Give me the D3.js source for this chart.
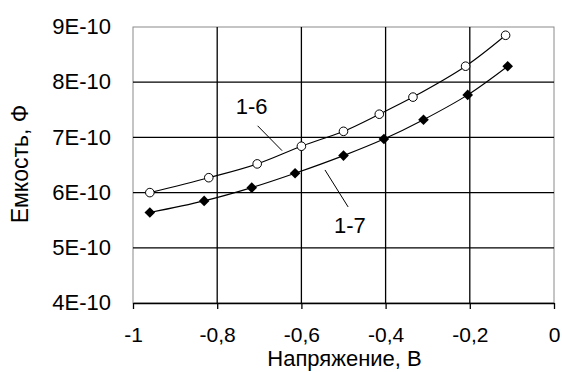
<!DOCTYPE html>
<meta charset="utf-8">
<head>
<style>
  body { margin: 0; background: #fff; }
  text { font-family: Arial, "Liberation Sans", sans-serif; fill: #000; }
</style>
</head>
<body>
<script src="https://cdn.jsdelivr.net/npm/d3@7"></script>
<script>

// series 1-6 (open circles)
var volt16 = [-0.96, -0.82, -0.705, -0.6, -0.5, -0.415, -0.335, -0.21, -0.115];
var cap16  = [6.0e-10, 6.27e-10, 6.52e-10, 6.84e-10, 7.11e-10, 7.42e-10, 7.73e-10, 8.29e-10, 8.85e-10];

// series 1-7 (filled diamonds)
var volt17 = [-0.96, -0.831, -0.718, -0.615, -0.5, -0.404, -0.31, -0.205, -0.11];
var cap17  = [5.64e-10, 5.85e-10, 6.09e-10, 6.35e-10, 6.67e-10, 6.97e-10, 7.32e-10, 7.77e-10, 8.29e-10];

var xTicks = [-1, -0.8, -0.6, -0.4, -0.2, 0];
var xTickLabels = ["-1", "-0,8", "-0,6", "-0,4", "-0,2", "0"];
var yTicks = [4e-10, 5e-10, 6e-10, 7e-10, 8e-10, 9e-10];
var yTickLabels = ["4E-10", "5E-10", "6E-10", "7E-10", "8E-10", "9E-10"];

// labels and their leader lines, in data units
var labels = [
  {text: "1-6", x: -0.718, y: 7.57e-10, lx1: -0.704, ly1: 7.21e-10, lx2: -0.646, ly2: 6.76e-10},
  {text: "1-7", x: -0.485, y: 5.41e-10, lx1: -0.544, ly1: 6.41e-10, lx2: -0.489, ly2: 5.74e-10}
];

var margin = {top: 27, right: 8, bottom: 69, left: 133},
    width = 562 - margin.left - margin.right,
    height = 372 - margin.top - margin.bottom;

var svg = d3.select("body").append("svg")
    .attr("width", 562)
    .attr("height", 372);

var g = svg.append("g")
    .attr("transform", "translate(" + margin.left + "," + margin.top + ")");

var x = d3.scaleLinear().domain([-1, 0]).range([0, width]);
var y = d3.scaleLinear().domain([4e-10, 9e-10]).range([height, 0]);

// plot frame (grey)
g.append("rect")
    .attr("x", 0).attr("y", 0)
    .attr("width", width).attr("height", height)
    .attr("fill", "none")
    .attr("stroke", "#8a8a8a")
    .attr("stroke-width", 1);

// grid
g.selectAll(".vgrid")
  .data(xTicks.slice(1, -1))
  .enter().append("line")
    .attr("x1", function(d){ return x(d); })
    .attr("x2", function(d){ return x(d); })
    .attr("y1", 0).attr("y2", height)
    .attr("stroke", "#000").attr("stroke-width", 1.3);

g.selectAll(".hgrid")
  .data(yTicks.slice(1, -1))
  .enter().append("line")
    .attr("x1", 0).attr("x2", width)
    .attr("y1", function(d){ return y(d); })
    .attr("y2", function(d){ return y(d); })
    .attr("stroke", "#000").attr("stroke-width", 1.3);

// x axis
var xAxis = g.append("g")
    .attr("transform", "translate(0," + height + ")")
    .call(d3.axisBottom(x).tickValues(xTicks).tickSize(6).tickSizeOuter(0)
      .tickFormat(function(d, i){ return xTickLabels[i]; }));
xAxis.select(".domain").attr("stroke", "#000").attr("stroke-width", 1.3);
xAxis.selectAll(".tick line").attr("stroke", "#000").attr("stroke-width", 1.3);
xAxis.selectAll(".tick text")
    .attr("y", 39).attr("dy", 0)
    .style("font-size", "21px")
    .style("font-family", "Arial, 'Liberation Sans', sans-serif");

// y axis
var yAxis = g.append("g")
    .call(d3.axisLeft(y).tickValues(yTicks).tickSize(0).tickPadding(22)
      .tickFormat(function(d, i){ return yTickLabels[i]; }));
yAxis.select(".domain").remove();
yAxis.selectAll(".tick text")
    .attr("dy", "0.3em")
    .style("font-size", "22px")
    .style("font-family", "Arial, 'Liberation Sans', sans-serif");

// axis titles
svg.append("text")
    .attr("x", margin.left + x(-0.5) + 1)
    .attr("y", 366)
    .attr("text-anchor", "middle")
    .style("font-size", "22px")
    .text("Напряжение, В");

svg.append("text")
    .attr("transform", "translate(28,164) rotate(-90)")
    .attr("text-anchor", "middle")
    .style("font-size", "23px")
    .text("Емкость, Ф");

// curves
var line = d3.line()
    .x(function(m){ return x(m[0]); })
    .y(function(m){ return y(m[1]); })
    .curve(d3.curveCatmullRom.alpha(0.5));

var data16 = d3.zip(volt16, cap16);
var data17 = d3.zip(volt17, cap17);

g.append("path").datum(data16)
    .attr("fill", "none").attr("stroke", "#000").attr("stroke-width", 1.1)
    .attr("d", line);
g.append("path").datum(data17)
    .attr("fill", "none").attr("stroke", "#000").attr("stroke-width", 1.1)
    .attr("d", line);

// markers
g.selectAll(".m16").data(data16).enter().append("circle")
    .attr("cx", function(m){ return x(m[0]); })
    .attr("cy", function(m){ return y(m[1]); })
    .attr("r", 4.3)
    .attr("fill", "#fff").attr("stroke", "#000").attr("stroke-width", 1);

g.selectAll(".m17").data(data17).enter().append("path")
    .attr("transform", function(m){ return "translate(" + x(m[0]) + "," + y(m[1]) + ")"; })
    .attr("d", d3.symbol().type(d3.symbolDiamond2).size(72))
    .attr("fill", "#000");

// labels
labels.forEach(function(l){
  g.append("line")
    .attr("x1", x(l.lx1)).attr("y1", y(l.ly1))
    .attr("x2", x(l.lx2)).attr("y2", y(l.ly2))
    .attr("stroke", "#000").attr("stroke-width", 1);
  g.append("text")
    .attr("x", x(l.x)).attr("y", y(l.y))
    .attr("dy", "0.35em")
    .attr("text-anchor", "middle")
    .style("font-size", "22px")
    .text(l.text);
});

</script>
</body>
